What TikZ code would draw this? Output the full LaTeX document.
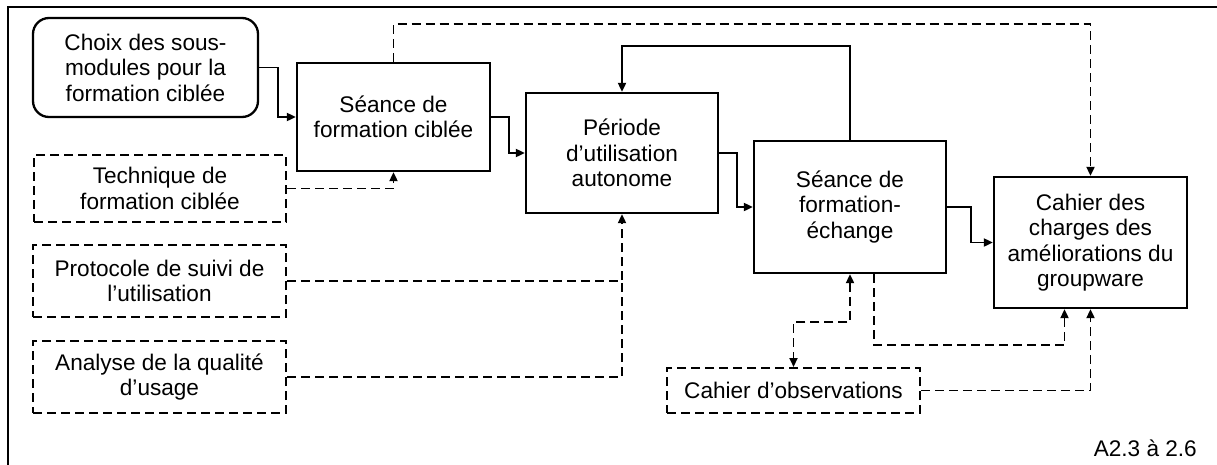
\documentclass[tikz,border=0pt]{standalone}
\usepackage{fontspec}
\setmainfont{Liberation Sans}
\usetikzlibrary{arrows.meta}
\begin{document}
\begin{tikzpicture}[x=1pt,y=-1pt,
  every node/.style={font=\fontsize{22.6}{25.5}\selectfont, align=center, inner sep=0pt},
  box/.style={draw, line width=2.3pt, minimum width=#1},
  dbox/.style={draw, line width=2pt, dash pattern=on 9pt off 5pt, minimum width=#1},
  conn/.style={line width=1.9pt},
  tip/.tip={Triangle[length=9pt,width=8pt]},
  arr/.style={conn, -tip},
  darr/.style={conn, dash pattern=on 9pt off 5pt, -tip},
  dline/.style={conn, dash pattern=on 9pt off 5pt},
  ddarr/.style={conn, dash pattern=on 9pt off 5pt, tip-tip}
]
\useasboundingbox (0,0) rectangle (1217,464);
% outer frame
\draw[line width=2.8pt] (8,480) -- (8,7) -- (1230,7);

% main process boxes
\node[box=225pt, minimum height=99pt, rounded corners=16pt] (choix) at (145.5,67.5) {Choix des sous-\\modules pour la\\formation ciblée};
\node[box=193pt, minimum height=108pt] (seance1) at (393.5,117) {Séance de\\formation ciblée};
\node[box=192pt, minimum height=120pt] (periode) at (622,153) {Période\\d’utilisation\\autonome};
\node[box=192pt, minimum height=132pt] (echange) at (850,207) {Séance de\\formation-\\échange};
\node[box=193pt, minimum height=131pt] (cahier) at (1090.5,242.5) {Cahier des\\charges des\\améliorations du\\groupware};

% supporting (dashed) boxes
\node[dbox=252pt, minimum height=67pt] (technique) at (160,188.5) {Technique de\\formation ciblée};
\node[dbox=253pt, minimum height=72pt] (protocole) at (159.5,281) {Protocole de suivi de\\l’utilisation};
\node[dbox=253pt, minimum height=72pt] (analyse) at (159.5,377) {Analyse de la qualité\\d’usage};
\node[dbox=253pt, minimum height=45pt] (obs) at (793.5,390.5) {Cahier d’observations};

\node[anchor=east] (ref) at (1197,448) {A2.3 à 2.6};

% solid flow
\draw[arr] (choix.east) -- ++(19,0) |- (seance1.west);
\draw[arr] (seance1.east) -- ++(18,0) |- (periode.west);
\draw[arr] (periode.east) -- ++(18,0) |- (echange.west);
\draw[arr] (echange.east) -- ++(24,0) |- (cahier.west);
\draw[arr] (echange.north) -- (echange.north |- 0,46) -| (periode.north);

% dashed flow
\draw[darr] (technique.east) -| (seance1.south);
\draw[darr] (seance1.north) -- (seance1.north |- 0,24) -| (cahier.north);
\draw[darr] (protocole.east) -| (periode.south);
\draw[dline] (analyse.east) -| (periode.south |- protocole.east);
\draw[ddarr] (echange.south) -- ++(0,48) -| (obs.north);
\draw[darr] ([xshift=24pt]echange.south) -- ++(0,71) -| ([xshift=-26pt]cahier.south);
\draw[darr] (obs.east) -| (cahier.south);
\end{tikzpicture}
\end{document}
